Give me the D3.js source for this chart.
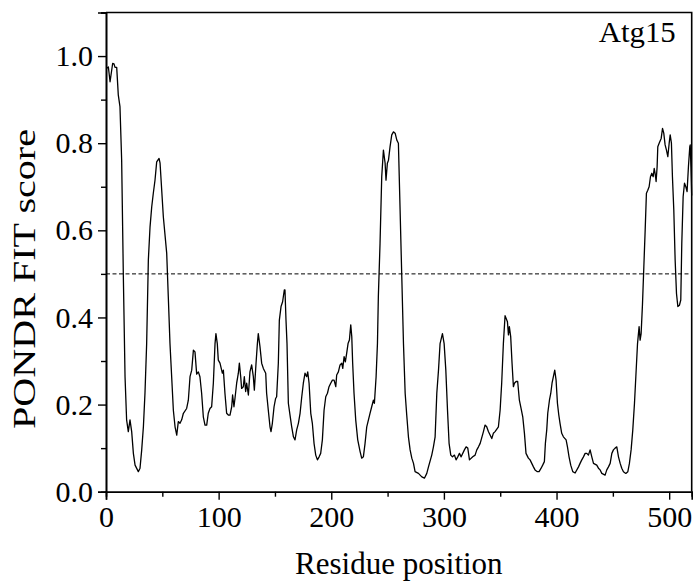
<!DOCTYPE html>
<html>
<head>
<meta charset="utf-8">
<script src="https://cdn.jsdelivr.net/npm/d3@7"></script>
<style>
    body { margin: 0; background: #fff; }
    .vis text { font-family: "Liberation Serif", "Times New Roman", serif; fill: #000; }
</style>
</head>
<body>
<div class="vis"></div>
<script>
// residue positions and PONDR-FIT scores
const residues = [0.6, 2.1, 3.6, 5.9, 7.1, 8.0, 9.5, 10.9, 12.4, 13.9, 15.4, 16.9, 18.3, 19.8, 21.3, 22.8, 24.3, 25.8, 28.7, 30.2,
    31.7, 33.2, 34.6, 36.1, 37.6, 39.1, 40.6, 42.0, 43.5, 45.0, 47.1, 48.0, 50.9, 53.9, 55.3, 56.8, 58.3, 59.8, 61.3, 62.8,
    64.2, 65.7, 67.2, 68.7, 71.6, 73.1, 74.6, 76.1, 77.6, 79.0, 80.5, 82.0, 83.4, 84.9, 86.4, 87.9, 89.4, 90.8, 92.3, 93.8,
    95.3, 96.8, 97.6, 98.8, 99.7, 101.2, 103.3, 104.2, 105.6, 107.1, 108.6, 110.1, 111.6, 112.4, 113.6, 114.5, 116.0, 117.5, 118.4, 119.6,
    120.4, 121.9, 122.8, 124.0, 124.9, 126.4, 127.8, 129.3, 130.8, 131.7, 133.2, 134.4, 135.2, 136.7, 138.2, 139.7, 141.8, 142.6, 144.1, 145.6,
    146.5, 147.7, 149.2, 150.6, 151.5, 153.0, 153.9, 155.4, 156.8, 158.3, 158.9, 159.8, 160.7, 161.9, 163.4, 164.8, 166.4, 167.8, 169.3, 170.8,
    172.3, 173.8, 175.2, 176.7, 178.2, 179.1, 180.3, 181.8, 183.2, 184.7, 186.2, 187.7, 189.2, 190.6, 192.1, 193.6, 195.1, 196.6, 198.0, 199.5,
    201.0, 202.5, 204.0, 204.8, 206.3, 207.8, 209.3, 210.2, 211.4, 212.5, 213.7, 214.9, 216.1, 217.3, 218.2, 219.0, 220.2, 221.7, 223.5, 225.6,
    227.0, 228.5, 230.0, 231.5, 233.0, 234.4, 235.9, 237.4, 238.3, 239.8, 241.0, 241.8, 243.3, 244.8, 246.3, 247.8, 248.6, 249.8, 250.8, 252.2,
    253.7, 255.2, 256.7, 258.2, 259.6, 261.1, 262.6, 264.1, 265.6, 267.0, 268.5, 270.0, 271.5, 273.0, 274.4, 277.4, 280.4, 282.7, 284.8, 286.3,
    289.2, 290.7, 292.2, 293.7, 295.2, 296.6, 298.7, 300.2, 301.7, 303.2, 304.6, 306.1, 307.6, 309.4, 310.8, 312.3, 313.8, 315.3, 318.2, 319.7,
    321.2, 322.7, 325.6, 327.7, 329.2, 330.7, 332.2, 335.1, 336.5, 338.0, 339.5, 342.5, 343.9, 345.4, 348.4, 349.9, 351.3, 352.8, 354.3, 356.4,
    357.3, 358.1, 359.3, 360.5, 361.7, 362.6, 364.1, 365.5, 367.0, 368.5, 370.0, 371.5, 372.9, 375.0, 376.5, 378.0, 379.5, 380.9, 383.0, 384.5,
    386.3, 387.7, 389.2, 390.1, 391.3, 392.2, 393.7, 394.9, 396.0, 397.2, 398.4, 399.6, 400.8, 402.0, 403.1, 404.6, 406.1, 408.5, 409.7, 411.1,
    412.6, 414.4, 416.5, 419.5, 420.9, 422.4, 423.9, 425.4, 426.9, 428.3, 429.8, 431.3, 432.8, 435.7, 437.2, 438.7, 440.2, 443.1, 444.6, 446.1,
    447.6, 449.1, 450.5, 452.0, 453.5, 455.0, 456.5, 457.9, 459.4, 461.5, 463.3, 464.7, 466.2, 467.7, 469.2, 470.4, 471.9, 473.3, 474.2, 475.1,
    476.3, 477.5, 478.7, 479.8, 481.0, 482.2, 483.4, 484.6, 485.8, 486.7, 487.5, 488.4, 489.3, 489.9, 491.1, 492.9, 494.1, 495.2, 496.4, 497.6,
    498.8, 500.0, 500.9, 502.0, 502.9, 504.1, 505.3, 506.5, 507.7, 509.1, 510.3, 511.2, 512.4, 513.6, 514.8, 515.9, 517.1, 518.3, 518.7, 519.3,
    520.0];

const scores = [0.972, 0.975, 0.941, 0.983, 0.982, 0.974, 0.974, 0.911, 0.884, 0.761, 0.494, 0.264, 0.165, 0.138, 0.165, 0.138, 0.088, 0.061, 0.046, 0.054,
    0.096, 0.149, 0.226, 0.340, 0.532, 0.608, 0.654, 0.685, 0.715, 0.757, 0.765, 0.754, 0.631, 0.547, 0.448, 0.340, 0.264, 0.187, 0.149, 0.130,
    0.161, 0.157, 0.165, 0.180, 0.191, 0.210, 0.264, 0.279, 0.325, 0.321, 0.270, 0.275, 0.264, 0.226, 0.172, 0.153, 0.153, 0.180, 0.191, 0.195,
    0.249, 0.340, 0.363, 0.340, 0.302, 0.295, 0.272, 0.279, 0.226, 0.180, 0.176, 0.176, 0.195, 0.222, 0.195, 0.214, 0.249, 0.272, 0.295, 0.264,
    0.237, 0.241, 0.264, 0.230, 0.249, 0.222, 0.275, 0.291, 0.264, 0.233, 0.295, 0.340, 0.363, 0.333, 0.295, 0.283, 0.272, 0.226, 0.187, 0.149,
    0.138, 0.157, 0.195, 0.214, 0.218, 0.295, 0.394, 0.425, 0.436, 0.463, 0.463, 0.394, 0.340, 0.203, 0.175, 0.150, 0.126, 0.119, 0.142, 0.157,
    0.180, 0.218, 0.249, 0.272, 0.264, 0.275, 0.249, 0.180, 0.157, 0.111, 0.084, 0.073, 0.080, 0.088, 0.119, 0.187, 0.218, 0.226, 0.241, 0.249,
    0.256, 0.256, 0.241, 0.268, 0.275, 0.291, 0.295, 0.283, 0.310, 0.298, 0.318, 0.340, 0.348, 0.383, 0.356, 0.295, 0.226, 0.165, 0.119, 0.092,
    0.077, 0.080, 0.111, 0.149, 0.165, 0.180, 0.195, 0.210, 0.203, 0.264, 0.340, 0.448, 0.570, 0.723, 0.784, 0.754, 0.715, 0.754, 0.761, 0.792,
    0.819, 0.826, 0.823, 0.807, 0.800, 0.647, 0.494, 0.340, 0.226, 0.176, 0.126, 0.096, 0.077, 0.065, 0.046, 0.042, 0.034, 0.031, 0.042, 0.057,
    0.084, 0.103, 0.126, 0.226, 0.279, 0.340, 0.363, 0.340, 0.279, 0.187, 0.111, 0.084, 0.080, 0.084, 0.073, 0.080, 0.088, 0.080, 0.096, 0.103,
    0.100, 0.073, 0.080, 0.084, 0.096, 0.103, 0.111, 0.138, 0.153, 0.149, 0.138, 0.122, 0.134, 0.138, 0.149, 0.187, 0.249, 0.340, 0.404, 0.390,
    0.360, 0.379, 0.356, 0.295, 0.241, 0.249, 0.253, 0.253, 0.210, 0.191, 0.172, 0.134, 0.088, 0.077, 0.073, 0.065, 0.057, 0.050, 0.046, 0.046,
    0.054, 0.061, 0.069, 0.111, 0.142, 0.180, 0.210, 0.226, 0.249, 0.264, 0.279, 0.256, 0.203, 0.176, 0.157, 0.134, 0.126, 0.119, 0.103, 0.080,
    0.061, 0.046, 0.043, 0.057, 0.065, 0.073, 0.080, 0.088, 0.088, 0.084, 0.096, 0.080, 0.065, 0.061, 0.054, 0.050, 0.042, 0.038, 0.050, 0.057,
    0.065, 0.088, 0.096, 0.100, 0.103, 0.080, 0.065, 0.054, 0.046, 0.042, 0.046, 0.065, 0.096, 0.142, 0.203, 0.264, 0.340, 0.379, 0.348, 0.363,
    0.430, 0.516, 0.601, 0.685, 0.692, 0.700, 0.723, 0.731, 0.723, 0.742, 0.731, 0.712, 0.746, 0.792, 0.800, 0.811, 0.834, 0.823, 0.796, 0.784,
    0.769, 0.800, 0.819, 0.800, 0.723, 0.647, 0.532, 0.455, 0.425, 0.428, 0.440, 0.570, 0.677, 0.708, 0.700, 0.689, 0.746, 0.792, 0.796, 0.746,
    0.680];

const xMajorTicks = [0, 100, 200, 300, 400, 500];
const xMinorTicks = [50, 150, 250, 350, 450];
const yMajorTicks = [0.0, 0.2, 0.4, 0.6, 0.8, 1.0];
const yMinorTicks = [0.1, 0.3, 0.5, 0.7, 0.9, 1.1];
const threshold = 0.5;
const proteinName = "Atg15";

(function () {
    const svgWidth = 699;
    const svgHeight = 582;

    const svg = d3.select('.vis')
        .append("svg")
            .attr('width', svgWidth)
            .attr('height', svgHeight);

    var margin = {
        top: 12.5,
        right: 7.3,
        left: 106,
        bottom: 90.3
    }

    var innerWidth = svgWidth - margin.left - margin.right;
    var innerHeight = svgHeight - margin.top - margin.bottom;

    var data = residues.map(function (r, i) {
        return { pos: r, score: scores[i] };
    });

    const graph = svg.append('g')
        .attr('transform', `translate(${margin.left}, ${margin.top})`);

    var xScale = d3.scaleLinear()
        .domain([0, 520])
        .range([0, innerWidth]);

    var yScale = d3.scaleLinear()
        .domain([0, 1.1])
        .range([innerHeight, 0]);

    // minor ticks first, then the labelled ones
    graph.append('g')
        .attr('class', 'graphTicks')
        .attr('transform', `translate(0, ${innerHeight})`)
        .call(d3.axisBottom(xScale).tickValues(xMinorTicks).tickSize(5).tickFormat(''));

    var callxAxis = graph.append('g')
        .attr('class', 'graphTicks')
        .attr('transform', `translate(0, ${innerHeight})`)
        .call(d3.axisBottom(xScale).tickValues(xMajorTicks).tickSize(8).tickPadding(6).tickFormat(d3.format('d')));

    graph.append('g')
        .attr('class', 'graphTicks')
        .call(d3.axisLeft(yScale).tickValues(yMinorTicks).tickSize(5).tickFormat(''));

    var callyAxis = graph.append('g')
        .attr('class', 'graphTicks')
        .call(d3.axisLeft(yScale).tickValues(yMajorTicks).tickSize(8).tickPadding(5).tickFormat(d3.format('.1f')));

    svg.selectAll('.graphTicks path.domain').attr('stroke', '#000').attr('stroke-width', 1.6);
    svg.selectAll('.graphTicks line').attr('stroke', '#000').attr('stroke-width', 1.4);
    svg.selectAll('.graphTicks text')
        .attr('font-size', 30)
        .attr('font-family', '"Liberation Serif", "Times New Roman", serif');

    // frame on the top and right
    graph.append('path')
        .attr('d', `M0,0H${innerWidth}V${innerHeight}`)
        .attr('fill', 'none')
        .attr('stroke', '#000')
        .attr('stroke-width', 1.6);

    // disorder threshold
    graph.append('line')
        .attr('x1', 0)
        .attr('x2', innerWidth)
        .attr('y1', yScale(threshold))
        .attr('y2', yScale(threshold))
        .attr('stroke', '#000')
        .attr('stroke-width', 1)
        .attr('stroke-dasharray', '4,2.5');

    var line = d3.line()
        .x(function (d) { return xScale(d.pos); })
        .y(function (d) { return yScale(d.score); });

    graph.append('path')
        .datum(data)
        .attr('fill', 'none')
        .attr('stroke', '#000')
        .attr('stroke-width', 1.3)
        .attr('stroke-linejoin', 'round')
        .attr('d', line);

    graph.append('text')
        .attr('x', innerWidth - 16)
        .attr('y', 29)
        .attr('text-anchor', 'end')
        .attr('font-size', 29)
        .attr('textLength', 77)
        .attr('lengthAdjust', 'spacingAndGlyphs')
        .text(proteinName);

    svg.append('text')
        .attr('x', margin.left + innerWidth / 2)
        .attr('y', 574)
        .attr('text-anchor', 'middle')
        .attr('font-size', 31)
        .text('Residue position');

    svg.append('text')
        .attr('transform', `translate(35, 279) rotate(-90)`)
        .attr('text-anchor', 'middle')
        .attr('font-size', 31)
        .attr('textLength', 300)
        .attr('lengthAdjust', 'spacingAndGlyphs')
        .text('PONDR FIT score');
})();
</script>
</body>
</html>
